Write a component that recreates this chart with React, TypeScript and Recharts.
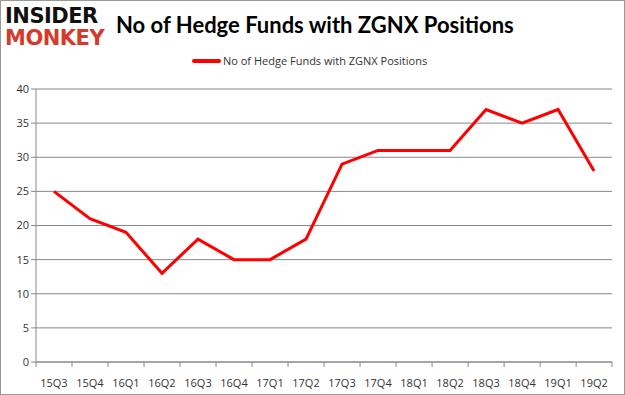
import React from 'react';
import { LineChart, Line, XAxis, YAxis, CartesianGrid } from 'recharts';

const quarters = ['15Q3', '15Q4', '16Q1', '16Q2', '16Q3', '16Q4', '17Q1', '17Q2', '17Q3', '17Q4', '18Q1', '18Q2', '18Q3', '18Q4', '19Q1', '19Q2'];
const funds = [25, 21, 19, 13, 18, 15, 15, 18, 29, 31, 31, 31, 37, 35, 37, 28];
const yTicks = [0, 5, 10, 15, 20, 25, 30, 35, 40];

const SERIES = 'No of Hedge Funds with ZGNX Positions';
const data = quarters.map((q, i) => ({ q, [SERIES]: funds[i] }));

const BAND = (610 - 36) / quarters.length;

const XTick = (props: any) => {
    const { x, y, payload, index } = props;
    const left = x - BAND / 2;
    return (
        <g>
            <line x1={left} y1={y - 8} x2={left} y2={y - 3} stroke="#888" />
            {index === quarters.length - 1 && (
                <line x1={left + BAND} y1={y - 8} x2={left + BAND} y2={y - 3} stroke="#888" />
            )}
            <text x={x} y={y + 17} textAnchor="middle" fontSize={11} fill="#333" fontFamily="'Open Sans', sans-serif">
                {payload.value}
            </text>
        </g>
    );
};

const App = () => {
    return (
        <div style={{ position: 'absolute', left: 0, top: 0, width: 625, height: 395, background: '#fff', boxSizing: 'border-box', border: '1px solid #999', fontFamily: "'Open Sans', sans-serif" }}>
            <div style={{ position: 'absolute', left: 4, top: 4, fontFamily: "'DejaVu Sans', sans-serif", fontWeight: 900, lineHeight: '22px' }}>
                <div style={{ fontSize: 21, color: '#111', letterSpacing: -0.5 }}>INSIDER</div>
                <div style={{ fontSize: 21, color: '#d63a2a', letterSpacing: -0.5 }}>MONKEY</div>
            </div>
            <div style={{ position: 'absolute', left: 115, top: 10, fontFamily: "Lato, sans-serif", fontWeight: 700, fontSize: 22, color: '#000', whiteSpace: 'nowrap' }}>
                No of Hedge Funds with ZGNX Positions
            </div>
            <div style={{ position: 'absolute', left: 191, top: 52, display: 'flex', alignItems: 'center', fontSize: 11, color: '#333', whiteSpace: 'nowrap' }}>
                <span style={{ display: 'inline-block', width: 29, height: 4, background: '#ff0000', marginRight: 2, borderRadius: 2 }} />
                <span>{SERIES}</span>
            </div>
            <LineChart width={625} height={395} data={data} margin={{ top: 88, right: 14, left: 5, bottom: 10 }}>
                <CartesianGrid vertical={false} stroke="#888" />
                <XAxis dataKey="q" tick={<XTick />} tickLine={false} stroke="#888" height={24} interval={0} padding={{ left: BAND / 2, right: BAND / 2 }} />
                <YAxis domain={[0, 40]} ticks={yTicks} width={30} stroke="#888" tickSize={5} tick={{ fontSize: 11, fill: '#333' }} interval={0} />
                <Line type="linear" dataKey={SERIES} stroke="#ff0000" strokeWidth={3} dot={false} isAnimationActive={false} />
            </LineChart>
        </div>
    );
};

export default App;
